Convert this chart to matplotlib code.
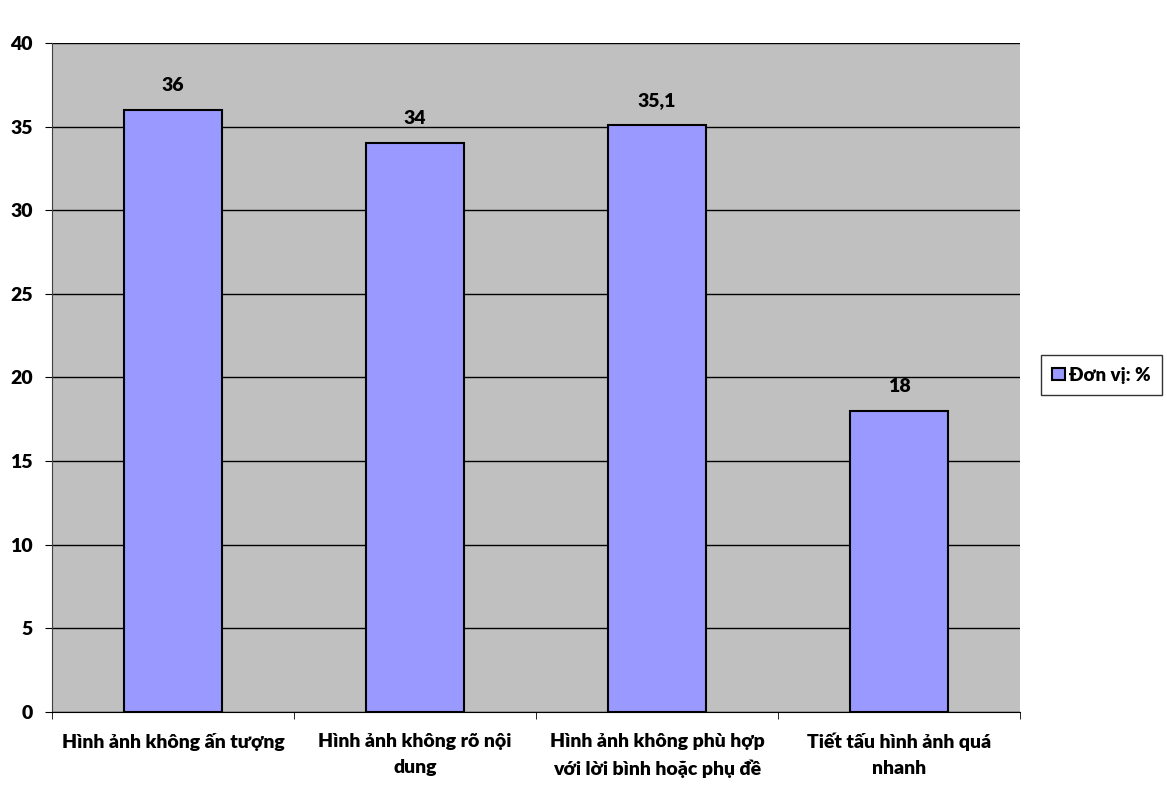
import numpy as np
import matplotlib
matplotlib.use('Agg')
import matplotlib.pyplot as plt

plt.rcParams['font.family'] = ['Lato', 'DejaVu Sans']
plt.rcParams['font.weight'] = 'heavy'
W = 'heavy'

# data
categories = ['Hình ảnh không ấn tượng',
              'Hình ảnh không rõ nội\ndung',
              'Hình ảnh không phù hợp\nvới lời bình hoặc phụ đề',
              'Tiết tấu hình ảnh quá\nnhanh']
values = [36, 34, 35.1, 18]
value_labels = ['36', '34', '35,1', '18']
series_name = 'Đơn vị: %'

fig = plt.figure(figsize=(11.67, 7.98), dpi=100)
ax = fig.add_axes([0.0446, 0.1078, 0.8295, 0.8383])
ax.set_facecolor('#C0C0C0')

x = np.arange(len(categories))
bars = ax.bar(x, values, width=0.405, color='#9999FF', edgecolor='black',
              linewidth=1.5, label=series_name, zorder=3)

for xi, v, lab in zip(x, values, value_labels):
    ax.text(xi, v + 0.95, lab, ha='center', va='bottom', fontsize=14,
            fontweight=W)

ax.set_xlim(-0.5, len(categories) - 0.5)
ax.set_ylim(0, 40)
ax.set_yticks(np.arange(0, 41, 5))
ax.yaxis.grid(True, color='black', linewidth=1, zorder=0)
ax.set_axisbelow(True)

ax.set_xticks(x)
ax.set_xticklabels(categories, fontsize=14, fontweight=W, linespacing=1.65)
ax.set_xticks(np.arange(-0.5, len(categories)), minor=True)
ax.tick_params(axis='x', which='major', length=0, pad=15)
ax.tick_params(axis='x', which='minor', length=5, direction='out', color='black')
ax.tick_params(axis='y', length=5, direction='out', labelsize=14, pad=9)
for t in ax.get_yticklabels():
    t.set_fontweight(W)

for s in ['top', 'right']:
    ax.spines[s].set_visible(False)
ax.spines['left'].set_color('#404040')
ax.spines['bottom'].set_color('black')

leg = fig.legend(handles=[bars], labels=[series_name], loc='center',
                 bbox_to_anchor=(0.944, 0.530), frameon=True, fancybox=False,
                 edgecolor='black', fontsize=13.5, handlelength=0.65,
                 handleheight=0.65, handletextpad=0.25, borderpad=0.6)
leg.get_frame().set_linewidth(1)
for t in leg.get_texts():
    t.set_fontweight(W)

fig.savefig('out.png', dpi=100)
